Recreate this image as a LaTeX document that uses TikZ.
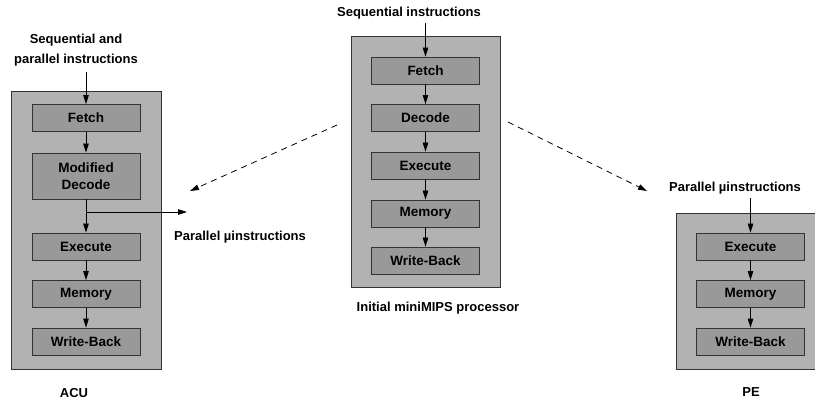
\documentclass[tikz,border=0pt]{standalone}
\usepackage{fontspec}
\setmainfont{Liberation Sans}
\usetikzlibrary{arrows.meta,calc}

\tikzset{
	unit/.style={draw=black!80, line width=0.8pt, fill=black!30, inner sep=0pt},
	stage/.style={draw=black!80, line width=0.8pt, fill=black!40, minimum width=108pt, minimum height=27pt, inner sep=0pt, font=\bfseries\fontsize{13.5}{17}\selectfont, align=center},
	lbl/.style={font=\bfseries\fontsize{13}{20}\selectfont, align=center, inner sep=1pt},
	flow/.style={line width=0.8pt, -{Triangle[length=9pt,width=5.5pt]}},
	dflow/.style={flow, dash pattern=on 6pt off 5pt}
}

\begin{document}
\begin{tikzpicture}[x=1pt,y=-1pt]
		\useasboundingbox (0,0) rectangle (815,401);
		\clip (0,0) rectangle (815,401);
		
		
		\node [unit, minimum width=150pt, minimum height=278pt] (acu) at (86,230) {};
		\node [unit, minimum width=149pt, minimum height=251pt] (mips) at (425.5,161.5) {};
		\node [unit, minimum width=149pt, minimum height=156pt] (pe) at (750.5,291) {};
		
		
		\node [lbl] (acuin) at (76,50) {Sequential and\\parallel instructions};
		\node [lbl] (acuname) at (74,393) {ACU};
		
		\node [stage] (acufetch) at (86,118) {Fetch};
		\node [stage, minimum height=46pt] (acudec) at (86,176) {Modified\\Decode};
		\node [stage] (acuexe) at (86,246.5) {Execute};
		\node [stage] (acumem) at (86,294) {Memory};
		\node [stage] (acuwb) at (86,341.5) {Write-Back};
		
		\draw [flow] (acuin.south -| acufetch) ++(0,5) -- (acufetch);
		\draw [flow] (acufetch) -- (acudec);
		\draw [flow] (acudec) -- (acuexe);
		\draw [flow] (acuexe) -- (acumem);
		\draw [flow] (acumem) -- (acuwb);
		
		\coordinate (acubranch) at (86,212);
		\coordinate (acuout) at (187,212);
		\draw [flow] (acubranch) -- (acuout);
		\node [lbl] (acupar) at (240,237) {Parallel µinstructions};
		
		
		\node [lbl] (mipsin) at (409,13) {Sequential instructions};
		\node [lbl] (mipsname) at (438,308) {Initial miniMIPS processor};
		
		\node [stage] (mipsfetch) at (425.5,70.5) {Fetch};
		\node [stage] (mipsdec) at (425.5,118) {Decode};
		\node [stage] (mipsexe) at (425.5,165.5) {Execute};
		\node [stage] (mipsmem) at (425.5,213.5) {Memory};
		\node [stage] (mipswb) at (425.5,260.5) {Write-Back};
		
		\draw [flow] (mipsin.south -| mipsfetch) ++(0,3) -- (mipsfetch);
		\draw [flow] (mipsfetch) -- (mipsdec);
		\draw [flow] (mipsdec) -- (mipsexe);
		\draw [flow] (mipsexe) -- (mipsmem);
		\draw [flow] (mipsmem) -- (mipswb);
		
		
		\node [lbl] (pein) at (735,188) {Parallel µinstructions};
		\node [lbl] (pename) at (751,392) {PE};
		
		\node [stage] (peexe) at (750.5,246.5) {Execute};
		\node [stage] (pemem) at (750.5,294) {Memory};
		\node [stage] (pewb) at (750.5,341.5) {Write-Back};
		
		\draw [flow] (pein.south -| peexe) ++(0,3) -- (peexe);
		\draw [flow] (peexe) -- (pemem);
		\draw [flow] (pemem) -- (pewb);
		
		
		\coordinate (leftfrom) at (337,125);
		\coordinate (leftto) at (190,191);
		\coordinate (rightfrom) at (508,122);
		\coordinate (rightto) at (647,191);
		\draw [dflow] (leftfrom) -- (leftto);
		\draw [dflow] (rightfrom) -- (rightto);
		
\end{tikzpicture}
\end{document}
